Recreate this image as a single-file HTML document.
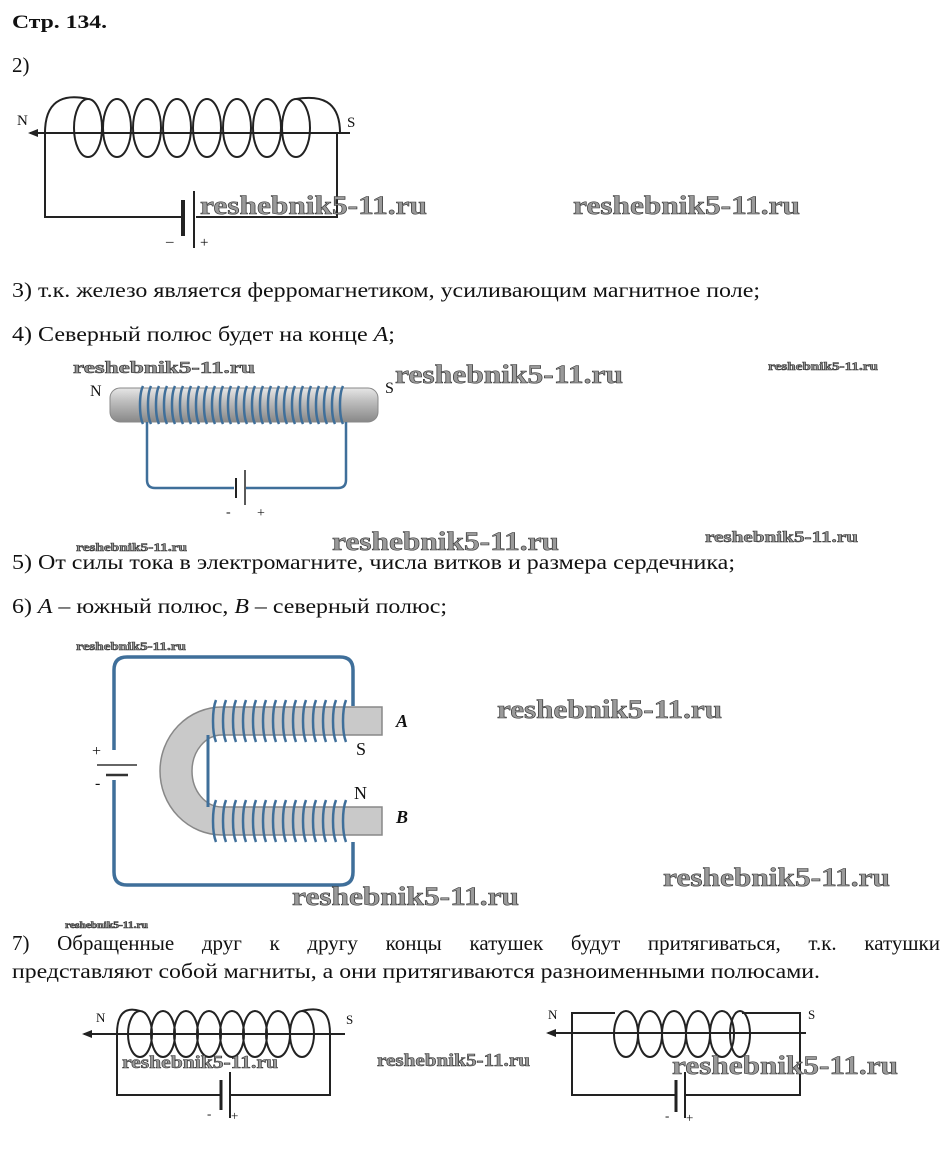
<!DOCTYPE html>
<html><head><meta charset="utf-8"><style>
body{margin:0;background:#fff;}
svg{display:block}
.t{font-family:"Liberation Serif",serif;font-size:21px;fill:#111}
.w{font-family:"Liberation Serif",serif;font-weight:bold;fill:#9a9a9a;stroke:#333;stroke-width:0.6}
.k{fill:none;stroke:#222;stroke-width:2}
.j{position:absolute;left:12px;top:929px;width:928px;font-family:"Liberation Serif",serif;font-size:21px;color:#111;text-align:justify;text-align-last:justify;white-space:nowrap;line-height:28px}
</style></head><body>
<div style="position:relative;width:948px;height:1170px">
<svg width="948" height="1170" viewBox="0 0 948 1170" xmlns="http://www.w3.org/2000/svg">
<defs>
<linearGradient id="rod" x1="0" y1="0" x2="0" y2="1"><stop offset="0" stop-color="#e6e6e6"/><stop offset="0.4" stop-color="#bdbdbd"/><stop offset="1" stop-color="#888"/></linearGradient>
<marker id="ar" markerWidth="10" markerHeight="8" refX="8" refY="4" orient="auto" markerUnits="userSpaceOnUse"><path d="M0,0 L10,4 L0,8 z" fill="#222"/></marker>
</defs>
<text x="12" y="28" class="t" style="font-weight:bold;font-size:19px" textLength="95" lengthAdjust="spacingAndGlyphs">Стр. 134.</text>
<text x="12" y="72" class="t">2)</text>

<!-- diagram 1 -->
<g class="k">
<path d="M45,133 C45,95 70,95 88,99"/>
<path d="M296,99 C320,95 340,100 340,133"/>
<ellipse cx="88" cy="128" rx="14" ry="29"/><ellipse cx="117" cy="128" rx="14" ry="29"/><ellipse cx="147" cy="128" rx="14" ry="29"/><ellipse cx="177" cy="128" rx="14" ry="29"/><ellipse cx="207" cy="128" rx="14" ry="29"/><ellipse cx="237" cy="128" rx="14" ry="29"/><ellipse cx="267" cy="128" rx="14" ry="29"/><ellipse cx="296" cy="128" rx="14" ry="29"/>
<line x1="350" y1="133" x2="30" y2="133" marker-end="url(#ar)"/>
<path d="M45,133 V217 H182 M196,217 H337 V133"/>
<line x1="183" y1="200" x2="183" y2="236" stroke-width="4"/>
<line x1="194" y1="191" x2="194" y2="248"/>
</g>
<text x="17" y="125" class="t" style="font-size:15px">N</text>
<text x="347" y="127" class="t" style="font-size:15px">S</text>
<text x="166" y="246" class="t" style="font-size:15px">–</text>
<text x="200" y="247" class="t" style="font-size:15px">+</text>
<text x="200" y="214" class="w" font-size="26" textLength="227" lengthAdjust="spacingAndGlyphs">reshebnik5-11.ru</text>
<text x="573" y="214" class="w" font-size="26" textLength="227" lengthAdjust="spacingAndGlyphs">reshebnik5-11.ru</text>

<text x="12" y="297" class="t" textLength="748" lengthAdjust="spacingAndGlyphs">3) т.к. железо является ферромагнетиком, усиливающим магнитное поле;</text>
<text x="12" y="341" class="t" textLength="383" lengthAdjust="spacingAndGlyphs">4) Северный полюс будет на конце <tspan font-style="italic">A</tspan>;</text>

<!-- diagram 2 -->
<rect x="110" y="388" width="268" height="34" rx="10" fill="url(#rod)" stroke="#888"/>
<g fill="none" stroke="#3f6f9a" stroke-width="2.5">
<path d="M143,386 c-4,8 -4,30 0,38 M151,386 c-4,8 -4,30 0,38 M159,386 c-4,8 -4,30 0,38 M167,386 c-4,8 -4,30 0,38 M175,386 c-4,8 -4,30 0,38 M183,386 c-4,8 -4,30 0,38 M191,386 c-4,8 -4,30 0,38 M199,386 c-4,8 -4,30 0,38 M207,386 c-4,8 -4,30 0,38 M215,386 c-4,8 -4,30 0,38 M223,386 c-4,8 -4,30 0,38 M231,386 c-4,8 -4,30 0,38 M239,386 c-4,8 -4,30 0,38 M247,386 c-4,8 -4,30 0,38 M255,386 c-4,8 -4,30 0,38 M263,386 c-4,8 -4,30 0,38 M271,386 c-4,8 -4,30 0,38 M279,386 c-4,8 -4,30 0,38 M287,386 c-4,8 -4,30 0,38 M295,386 c-4,8 -4,30 0,38 M303,386 c-4,8 -4,30 0,38 M311,386 c-4,8 -4,30 0,38 M319,386 c-4,8 -4,30 0,38 M327,386 c-4,8 -4,30 0,38 M335,386 c-4,8 -4,30 0,38 M343,386 c-4,8 -4,30 0,38"/>
<path d="M147,422 V480 q0,8 8,8 H234 M246,488 H338 q8,0 8,-8 V422"/>
</g>
<line x1="236" y1="478" x2="236" y2="498" stroke="#222" stroke-width="2"/>
<line x1="245" y1="470" x2="245" y2="505" stroke="#222" stroke-width="1.5"/>
<text x="90" y="396" class="t" style="font-size:16px">N</text>
<text x="385" y="393" class="t" style="font-size:16px">S</text>
<text x="226" y="516" class="t" style="font-size:14px">-</text>
<text x="257" y="517" class="t" style="font-size:14px">+</text>
<text x="73" y="373" class="w" font-size="17" textLength="182" lengthAdjust="spacingAndGlyphs">reshebnik5-11.ru</text>
<text x="395" y="383" class="w" font-size="26" textLength="228" lengthAdjust="spacingAndGlyphs">reshebnik5-11.ru</text>
<text x="768" y="370" class="w" font-size="12" textLength="110" lengthAdjust="spacingAndGlyphs">reshebnik5-11.ru</text>
<text x="76" y="551" class="w" font-size="12" textLength="111" lengthAdjust="spacingAndGlyphs">reshebnik5-11.ru</text>
<text x="332" y="550" class="w" font-size="26" textLength="227" lengthAdjust="spacingAndGlyphs">reshebnik5-11.ru</text>
<text x="705" y="542" class="w" font-size="16" textLength="153" lengthAdjust="spacingAndGlyphs">reshebnik5-11.ru</text>

<text x="12" y="569" class="t" textLength="723" lengthAdjust="spacingAndGlyphs">5) От силы тока в электромагните, числа витков и размера сердечника;</text>
<text x="12" y="613" class="t" textLength="435" lengthAdjust="spacingAndGlyphs">6) <tspan font-style="italic">A</tspan> – южный полюс, <tspan font-style="italic">B</tspan> – северный полюс;</text>

<!-- diagram 3 -->
<text x="76" y="650" class="w" font-size="12" textLength="110" lengthAdjust="spacingAndGlyphs">reshebnik5-11.ru</text>
<path d="M114,750 V670 q0,-13 13,-13 H340 q13,0 13,13 V706 M353,842 V872 q0,13 -13,13 H127 q-13,0 -13,-13 V780" fill="none" stroke="#3f6f9a" stroke-width="3.5"/>
<path d="M382,707 H222 A62,64 0 0 0 222,835 H382 V807 H222 A30,36 0 0 1 222,735 H382 Z" fill="#c9c9c9" stroke="#888" stroke-width="1.5"/>
<line x1="208" y1="735" x2="208" y2="807" stroke="#3f6f9a" stroke-width="3"/>
<g fill="none" stroke="#3f6f9a" stroke-width="2.5">
<path d="M216,700 c-4,10 -4,32 0,42 M226,700 c-4,10 -4,32 0,42 M236,700 c-4,10 -4,32 0,42 M246,700 c-4,10 -4,32 0,42 M256,700 c-4,10 -4,32 0,42 M266,700 c-4,10 -4,32 0,42 M276,700 c-4,10 -4,32 0,42 M286,700 c-4,10 -4,32 0,42 M296,700 c-4,10 -4,32 0,42 M306,700 c-4,10 -4,32 0,42 M316,700 c-4,10 -4,32 0,42 M326,700 c-4,10 -4,32 0,42 M336,700 c-4,10 -4,32 0,42 M346,700 c-4,10 -4,32 0,42"/>
<path d="M216,800 c-4,10 -4,32 0,42 M226,800 c-4,10 -4,32 0,42 M236,800 c-4,10 -4,32 0,42 M246,800 c-4,10 -4,32 0,42 M256,800 c-4,10 -4,32 0,42 M266,800 c-4,10 -4,32 0,42 M276,800 c-4,10 -4,32 0,42 M286,800 c-4,10 -4,32 0,42 M296,800 c-4,10 -4,32 0,42 M306,800 c-4,10 -4,32 0,42 M316,800 c-4,10 -4,32 0,42 M326,800 c-4,10 -4,32 0,42 M336,800 c-4,10 -4,32 0,42 M346,800 c-4,10 -4,32 0,42"/>
</g>
<line x1="97" y1="765" x2="137" y2="765" stroke="#333" stroke-width="1.5"/>
<line x1="106" y1="775" x2="128" y2="775" stroke="#333" stroke-width="2.5"/>
<text x="92" y="756" class="t" style="font-size:16px">+</text>
<text x="95" y="788" class="t" style="font-size:16px">-</text>
<text x="396" y="727" class="t" style="font-size:18px;font-style:italic;font-weight:bold">A</text>
<text x="356" y="755" class="t" style="font-size:18px">S</text>
<text x="354" y="799" class="t" style="font-size:18px">N</text>
<text x="396" y="823" class="t" style="font-size:18px;font-style:italic;font-weight:bold">B</text>
<text x="497" y="718" class="w" font-size="26" textLength="225" lengthAdjust="spacingAndGlyphs">reshebnik5-11.ru</text>
<text x="663" y="886" class="w" font-size="26" textLength="227" lengthAdjust="spacingAndGlyphs">reshebnik5-11.ru</text>
<text x="292" y="905" class="w" font-size="26" textLength="227" lengthAdjust="spacingAndGlyphs">reshebnik5-11.ru</text>
<text x="65" y="928" class="w" font-size="9" textLength="83" lengthAdjust="spacingAndGlyphs">reshebnik5-11.ru</text>

<text x="12" y="978" class="t" textLength="808" lengthAdjust="spacingAndGlyphs">представляют собой магниты, а они притягиваются разноименными полюсами.</text>

<!-- diagram 4 left -->
<g class="k" stroke-width="1.8">
<path d="M117,1034 C117,1008 130,1008 140,1011"/>
<path d="M302,1011 C322,1006 330,1012 330,1034"/>
<ellipse cx="140" cy="1034" rx="12" ry="23"/><ellipse cx="163" cy="1034" rx="12" ry="23"/><ellipse cx="186" cy="1034" rx="12" ry="23"/><ellipse cx="209" cy="1034" rx="12" ry="23"/><ellipse cx="232" cy="1034" rx="12" ry="23"/><ellipse cx="255" cy="1034" rx="12" ry="23"/><ellipse cx="278" cy="1034" rx="12" ry="23"/><ellipse cx="302" cy="1034" rx="12" ry="23"/>
<line x1="345" y1="1034" x2="84" y2="1034" marker-end="url(#ar)"/>
<path d="M117,1034 V1095 H220 M230,1095 H330 V1034"/>
<line x1="221" y1="1080" x2="221" y2="1110" stroke-width="3"/>
<line x1="230" y1="1072" x2="230" y2="1118"/>
</g>
<text x="96" y="1022" class="t" style="font-size:13px">N</text>
<text x="346" y="1024" class="t" style="font-size:13px">S</text>
<text x="207" y="1118" class="t" style="font-size:13px">-</text>
<text x="231" y="1120" class="t" style="font-size:13px">+</text>
<text x="122" y="1068" class="w" font-size="18" textLength="156" lengthAdjust="spacingAndGlyphs">reshebnik5-11.ru</text>
<text x="377" y="1066" class="w" font-size="18" textLength="153" lengthAdjust="spacingAndGlyphs">reshebnik5-11.ru</text>

<!-- diagram 4 right -->
<g class="k" stroke-width="1.8">
<path d="M572,1034 V1013 H615 M742,1013 H800 V1095 H686 M676,1095 H572 V1034"/>
<ellipse cx="626" cy="1034" rx="12" ry="23"/><ellipse cx="650" cy="1034" rx="12" ry="23"/><ellipse cx="674" cy="1034" rx="12" ry="23"/><ellipse cx="698" cy="1034" rx="12" ry="23"/><ellipse cx="722" cy="1034" rx="12" ry="23"/><ellipse cx="740" cy="1034" rx="10" ry="23"/>
<line x1="806" y1="1033" x2="548" y2="1033" marker-end="url(#ar)"/>
<line x1="676" y1="1080" x2="676" y2="1112" stroke-width="3"/>
<line x1="685" y1="1072" x2="685" y2="1118"/>
</g>
<text x="548" y="1019" class="t" style="font-size:13px">N</text>
<text x="808" y="1019" class="t" style="font-size:13px">S</text>
<text x="665" y="1120" class="t" style="font-size:13px">-</text>
<text x="686" y="1122" class="t" style="font-size:13px">+</text>
<text x="672" y="1074" class="w" font-size="26" textLength="226" lengthAdjust="spacingAndGlyphs">reshebnik5-11.ru</text>
</svg>
<div class="j">7) Обращенные друг к другу концы катушек будут притягиваться, т.к. катушки</div>
</div>
</body></html>
